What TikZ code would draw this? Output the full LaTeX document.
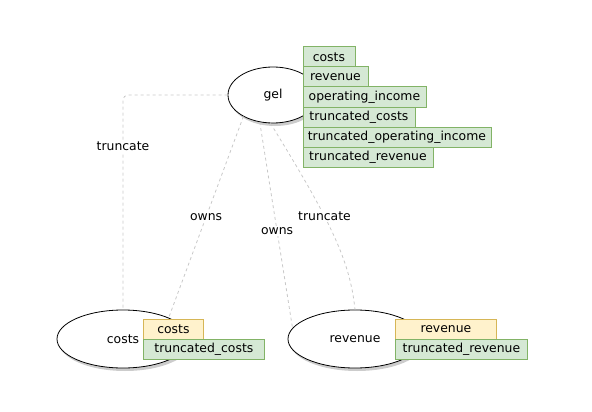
\documentclass[tikz,border=0pt]{standalone}
\usepackage{fontspec}
\setmainfont{DejaVu Sans}
\usetikzlibrary{shapes.geometric,shadows}
\definecolor{grnfill}{HTML}{D5E8D4}
\definecolor{grnline}{HTML}{82B366}
\definecolor{ylwfill}{HTML}{FFF2CC}
\definecolor{ylwline}{HTML}{D6B656}
\definecolor{linkgray}{HTML}{C8C8C8}
\begin{document}
\begin{tikzpicture}[x=1pt, y=-1pt,
    every node/.style={font=\fontsize{12.4}{15}\selectfont},
    ent/.style={ellipse, draw, fill=white, line width=0.8pt, inner sep=0pt, minimum width=#1,
        drop shadow={shadow xshift=2pt, shadow yshift=-3pt, opacity=0.4}},
    fld/.style={draw, line width=0.8pt, anchor=north west, inner sep=0pt, minimum height=20pt, minimum width=#1},
    gfld/.style={fld=#1, fill=grnfill, draw=grnline},
    yfld/.style={fld=#1, fill=ylwfill, draw=ylwline},
    link/.style={draw=linkgray, line width=0.8pt, dash pattern=on 3pt off 3pt},
    lbl/.style={fill=white, inner sep=1.5pt}]
    \useasboundingbox (0,0) rectangle (592,412);

    \node[ent=90pt, minimum height=56pt] (gel) at (273,95) {gel};
    \node[ent=132pt, minimum height=58pt] (costs) at (123,339) {costs};
    \node[ent=134pt, minimum height=58pt] (revenue) at (355,339) {revenue};

    \node[gfld=52pt] (g1) at (302.5,46.5) {costs};
    \node[gfld=65pt] (g2) at (302.5,66.5) {revenue};
    \node[gfld=123pt] (g3) at (302.5,86.5) {operating\_income};
    \node[gfld=112pt] (g4) at (302.5,106.5) {truncated\_costs};
    \node[gfld=188pt] (g5) at (302.5,126.5) {truncated\_operating\_income};
    \node[gfld=130pt] (g6) at (302.5,146.5) {truncated\_revenue};

    \node[yfld=60pt] (c1) at (143,319) {costs};
    \node[gfld=121pt] (c2) at (143,339) {truncated\_costs};

    \node[yfld=101pt] (r1) at (395,319) {revenue};
    \node[gfld=132pt] (r2) at (395,339) {truncated\_revenue};

    \draw[link, rounded corners=5pt] (gel.west) -| node[lbl, pos=0.62] {truncate} (costs.north);
    \draw[link] (gel.216) -- node[lbl, pos=0.5] {owns} (costs.25);
    \draw[link] (gel.244) -- node[lbl, pos=0.53] {owns} (revenue.170);
    \draw[link] (gel.265) .. controls (330,220) and (350,260) .. node[lbl, pos=0.4] {truncate} (revenue.north);
\end{tikzpicture}
\end{document}
